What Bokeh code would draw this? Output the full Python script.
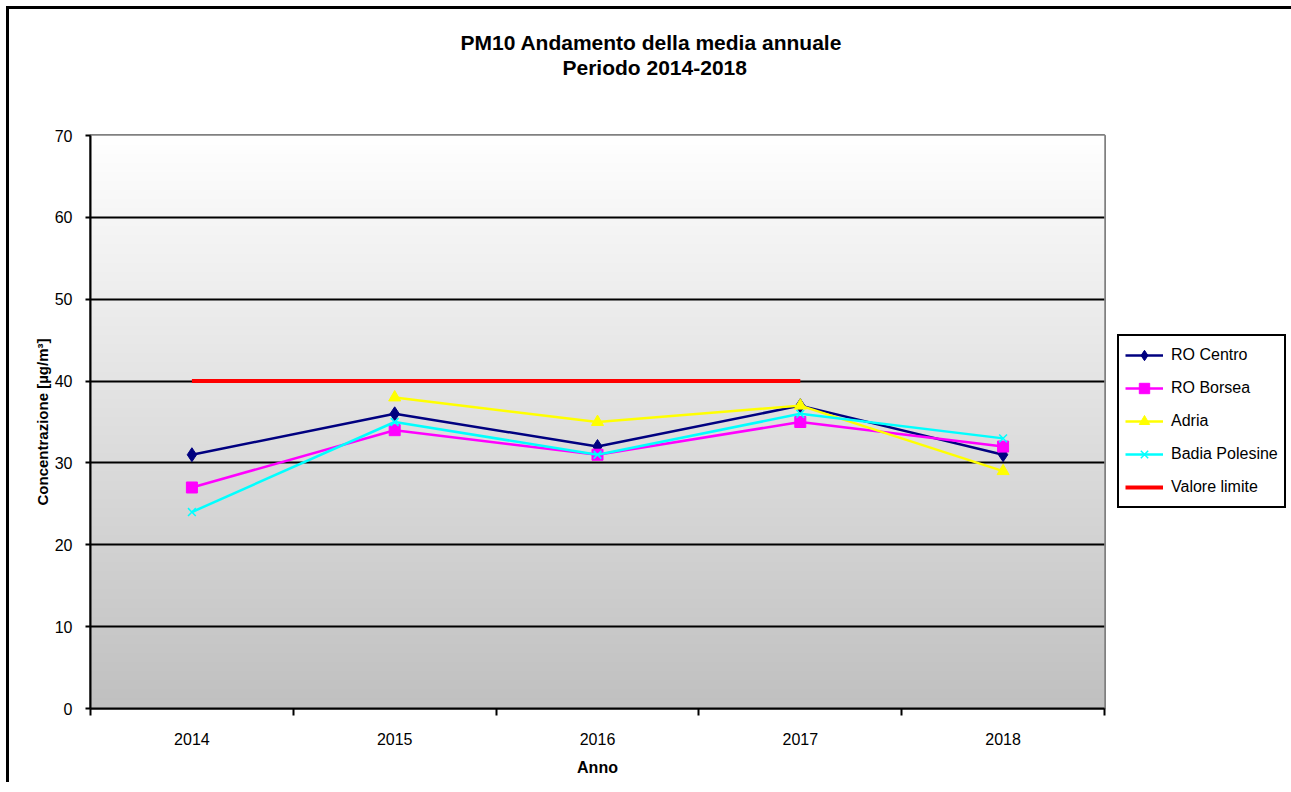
import numpy as np
from bokeh.plotting import figure
from bokeh.layouts import row
from bokeh.models import Range1d, FixedTicker, Legend, LegendItem, Title
from bokeh.embed import file_html
from bokeh.resources import INLINE

years = [2014, 2015, 2016, 2017, 2018]
ro_centro = [31, 36, 32, 37, 31]
ro_borsea = [27, 34, 31, 35, 32]
adria = [np.nan, 38, 35, 37, 29]
badia = [24, 35, 31, 36, 33]
limite = [40, 40, 40, 40, np.nan]
y_ticks = [0, 10, 20, 30, 40, 50, 60, 70]

series = [
    ("RO Centro", ro_centro, "#000080", "diamond", 14),
    ("RO Borsea", ro_borsea, "#ff00ff", "square", 11),
    ("Adria", adria, "#ffff00", "triangle", 12),
    ("Badia Polesine", badia, "#00ffff", "x", 11),
]

FONT = "Liberation Sans"

p = figure(frame_width=1014, frame_height=573,
           x_range=Range1d(2013.5, 2018.5), y_range=Range1d(0, 70),
           output_backend="svg", toolbar_location=None,
           min_border_left=81, min_border_right=13, min_border_top=126, min_border_bottom=74,
           background_fill_color="white", border_fill_color="white")

# gradient background
rows = 573
g = np.linspace(192, 255, rows).astype(np.uint32)
img = ((255 << 24) | (g << 16) | (g << 8) | g).astype(np.uint32).reshape(rows, 1)
p.image_rgba(image=[img], x=2013.5, y=0, dw=5, dh=70, level="image")

p.outline_line_color = "#808080"
p.outline_line_width = 3

# grids
p.xgrid.visible = False
p.ygrid.ticker = FixedTicker(ticks=y_ticks[1:-1])
p.ygrid.grid_line_color = "black"
p.ygrid.grid_line_width = 2

# axes
xa = p.xaxis[0]
xa.ticker = FixedTicker(ticks=years, minor_ticks=[y - 0.5 for y in years] + [years[-1] + 0.5])
xa.major_tick_out = 0
xa.major_tick_in = 0
xa.minor_tick_out = 7
xa.minor_tick_in = 0
xa.minor_tick_line_color = "black"
xa.minor_tick_line_width = 2
xa.axis_line_width = 2
xa.axis_line_color = "black"
xa.major_label_text_font = FONT
xa.major_label_text_font_size = "16px"
xa.major_label_text_color = "black"
xa.major_label_standoff = 17
xa.axis_label = "Anno"
xa.axis_label_text_font = FONT
xa.axis_label_text_font_style = "bold"
xa.axis_label_text_font_size = "16px"
xa.axis_label_text_color = "black"
xa.axis_label_standoff = 11

ya = p.yaxis[0]
ya.ticker = FixedTicker(ticks=y_ticks)
ya.major_tick_out = 5
ya.major_tick_in = 0
ya.major_tick_line_width = 2
ya.minor_tick_out = 0
ya.minor_tick_in = 0
ya.axis_line_width = 2
ya.axis_line_color = "black"
ya.major_label_text_font = FONT
ya.major_label_text_font_size = "16px"
ya.major_label_text_color = "black"
ya.major_label_standoff = 13
ya.axis_label = "Concentrazione [µg/m³]"
ya.axis_label_text_font = FONT
ya.axis_label_text_font_style = "bold"
ya.axis_label_text_font_size = "15px"
ya.axis_label_text_color = "black"
ya.axis_label_standoff = 1

# legend-only figure (its ranges keep the data out of view; only the legend shows)
q = figure(width=178, height=773, x_range=Range1d(0, 1), y_range=Range1d(0, 1),
           output_backend="svg", toolbar_location=None,
           x_axis_location=None, y_axis_location=None, min_border=0,
           background_fill_color="white", border_fill_color="white")
q.outline_line_color = None
q.grid.visible = False

lw = 2.5
items = []
for name, vals, color, marker, size in series:
    p.line(years, vals, line_color=color, line_width=lw)
    if marker == "x":
        p.scatter(years, vals, marker=marker, size=size, line_color=color, line_width=1.5)
        qm = q.scatter(years, vals, marker=marker, line_color=color, line_width=1.5)
    else:
        p.scatter(years, vals, marker=marker, size=size, fill_color=color, line_color=color)
        qm = q.scatter(years, vals, marker=marker, fill_color=color, line_color=color)
    ql = q.line(years, vals, line_color=color, line_width=lw)
    items.append(LegendItem(label=name, renderers=[ql, qm], index=1))

p.line(years, limite, line_color="#ff0000", line_width=4)
ql = q.line(years, limite, line_color="#ff0000", line_width=4)
items.append(LegendItem(label="Valore limite", renderers=[ql]))

legend = Legend(items=items, location=(0, 200))
legend.border_line_color = "black"
legend.border_line_width = 2
legend.border_line_alpha = 1.0
legend.background_fill_color = "white"
legend.background_fill_alpha = 1.0
legend.label_text_font = FONT
legend.label_text_font_size = "16px"
legend.label_text_color = "black"
legend.label_height = 26
legend.glyph_height = 26
legend.glyph_width = 38
legend.spacing = 7
legend.padding = 6
legend.margin = 0
legend.label_standoff = 8
q.add_layout(legend, "center")

# titles
p.title.visible = False
spacer = Title(text=" ", text_font_size="1px", standoff=54)
t2 = Title(text="Periodo 2014-2018", align="left", offset=472, text_font=FONT,
           text_font_size="21px", text_font_style="bold", text_color="black",
           text_line_height=1.1, standoff=0)
t1 = Title(text="PM10 Andamento della media annuale", align="left", offset=370, text_font=FONT,
           text_font_size="21px", text_font_style="bold", text_color="black",
           text_line_height=1.1, standoff=0)
p.add_layout(spacer, "above")
p.add_layout(t2, "above")
p.add_layout(t1, "above")

layout = row(p, q, spacing=0,
             styles={"border-left": "3px solid black", "border-top": "3px solid black",
                     "margin-left": "6px", "margin-top": "6px"})

open("out.html", "w").write(file_html(layout, INLINE))
